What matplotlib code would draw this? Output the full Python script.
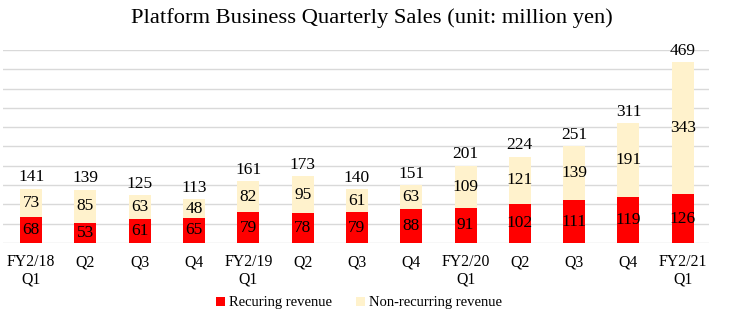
import matplotlib
matplotlib.use("Agg")
import matplotlib.pyplot as plt
from matplotlib.patches import Patch

categories = ["FY2/18\nQ1", "Q2", "Q3", "Q4", "FY2/19\nQ1", "Q2", "Q3", "Q4",
              "FY2/20\nQ1", "Q2", "Q3", "Q4", "FY2/21\nQ1"]
recurring = [68, 53, 61, 65, 79, 78, 79, 88, 91, 102, 111, 119, 126]
non_recurring = [73, 85, 63, 48, 82, 95, 61, 63, 109, 121, 139, 191, 343]
totals = [141, 139, 125, 113, 161, 173, 140, 151, 201, 224, 251, 311, 469]

plt.rcParams['font.family'] = ['Liberation Serif', 'DejaVu Serif']

RED = "#FF0000"
CREAM = "#FFF2CC"

fig = plt.figure(figsize=(7.3, 3.24), dpi=100)
ax = fig.add_axes([0.004, 0.25, 0.967, 0.596])

x = list(range(len(categories)))
w = 0.405
ax.bar(x, recurring, width=w, color=RED, zorder=3)
ax.bar(x, non_recurring, width=w, bottom=recurring, color=CREAM, zorder=3)

fs = 12.5
for i in x:
    ax.text(i, recurring[i] / 2, str(recurring[i]), ha='center', va='center',
            fontsize=fs, zorder=4)
    ax.text(i, recurring[i] + non_recurring[i] / 2, str(non_recurring[i]),
            ha='center', va='center', fontsize=fs, zorder=4)
    ax.text(i, totals[i] + 8, str(totals[i]), ha='center', va='bottom',
            fontsize=fs, zorder=4, clip_on=False)

ax.set_xlim(-0.52, 12.48)
ax.set_ylim(0, 500)
ax.set_yticks(range(0, 501, 50))
ax.yaxis.grid(True, color="#D9D9D9", linewidth=1)
ax.set_axisbelow(True)
ax.tick_params(axis='y', left=False, labelleft=False)
ax.tick_params(axis='x', length=0, pad=8, labelsize=11.3)
ax.set_xticks(x)
ax.set_xticklabels(categories, linespacing=1.1)
for s in ax.spines.values():
    s.set_visible(False)

fig.suptitle("Platform Business Quarterly Sales (unit: million yen)",
             fontsize=16.2, y=0.975, x=0.509)

handles = [Patch(facecolor=RED, label="Recuring revenue"),
           Patch(facecolor=CREAM, label="Non-recurring revenue")]
fig.legend(handles=handles, loc='center', bbox_to_anchor=(0.492, 0.065), ncol=2,
           frameon=False, fontsize=10.5, handlelength=0.6, handleheight=0.6,
           handletextpad=0.3, columnspacing=1.6)

fig.savefig("out.png", dpi=100)
